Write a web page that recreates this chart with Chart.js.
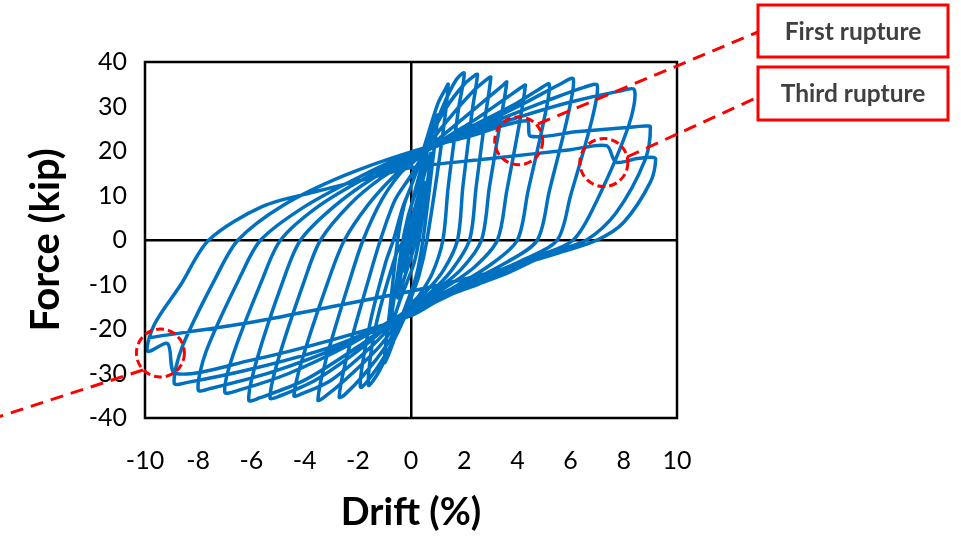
<!DOCTYPE html>
<html>
<head>
<meta charset="utf-8">
<script src="https://cdn.jsdelivr.net/npm/chart.js@4.4.1/dist/chart.umd.min.js"></script>
<style>
  html, body { margin: 0; padding: 0; background: #fff; }
  #wrap { width: 961px; height: 536px; }
</style>
</head>
<body>
<div id="wrap"><canvas id="hysteresis" width="961" height="536"></canvas></div>
<script>
// tick labels
const driftTicks = [-10, -8, -6, -4, -2, 0, 2, 4, 6, 8, 10];
const forceTicks = [-40, -30, -20, -10, 0, 10, 20, 30, 40];

// loops, [drift %, force kip]
const cycle01 = [[0,0],[0.12,3.5],[0.25,7],[0.14,2.5],[0.05,0],[-0.1,-3],[-0.25,-7],[-0.14,-2.5],[-0.05,0],[0,1.5]];
const cycle02 = [[0.2,6.5],[0.5,13],[0.32,5.5],[0.18,0],[0,-4],[-0.25,-8.5],[-0.5,-13],[-0.32,-5.5],[-0.18,0],[0,4]];
const cycle03 = [[0.35,11.5],[0.75,19.5],[0.52,9],[0.3,0],[0.1,-5.5],[-0.35,-12.5],[-0.75,-19],[-0.52,-8.5],[-0.3,0],[-0.1,5.5],[0,7.5]];
const cycle04 = [[0.4,15],[0.8,24.5],[1.0,28],[0.78,16],[0.45,0],[0.2,-8],[-0.3,-16.5],[-0.7,-23.5],[-1.0,-27.5],[-0.8,-16],[-0.5,0],[-0.25,8],[0,12]];
const cycle05 = [[0.5,21],[1.0,30.5],[1.3,34],[1.4,35],[1.2,24],[0.6,0],[0.3,-8],[0,-13],[-0.6,-22],[-1.2,-29.5],[-1.6,-32.6],[-1.35,-20],[-0.55,-3],[-0.28,0],[0,7.5]];
const cycle06 = [[0.6,20.5],[1.2,30],[1.7,36],[2.0,37.5],[1.8,30],[1.4,12],[1.2,0],[0.8,-7.5],[0.3,-12.5],[0,-14.5],[-0.6,-22],[-1.3,-29],[-1.9,-33],[-1.55,-19],[-0.95,-5],[-0.66,0],[-0.3,7.5],[0,12]];
const cycle07 = [[0.6,21.5],[1.3,29.5],[2.0,35],[2.4,37],[2.5,37.2],[2.3,29],[1.95,12],[1.75,0],[1.2,-7],[0.5,-12],[0,-14.5],[-0.9,-23.5],[-1.8,-30.5],[-2.5,-34.8],[-2.7,-35.3],[-2.4,-26],[-1.6,-9],[-1.15,0],[-0.6,9],[0,14.5]];
const cycle08 = [[0.8,22.5],[1.6,28.5],[2.4,33.8],[2.9,36.3],[3.0,36.6],[2.8,28],[2.45,12],[2.2,0],[1.5,-7],[0.7,-12],[0,-15],[-1.2,-24],[-2.4,-31],[-3.3,-35.5],[-3.5,-36],[-3.2,-27],[-2.3,-9],[-1.8,0],[-1.1,9],[-0.4,15],[0,17]];
const cycle09 = [[1,22.5],[2,27.5],[3,32.5],[3.5,35],[3.6,35.5],[3.4,28],[2.95,12],[2.65,0],[1.9,-6.5],[0.9,-11.5],[0,-15],[-1.5,-24],[-3,-31.5],[-4.2,-34.8],[-4.4,-35],[-4.1,-27],[-3.1,-9],[-2.5,0],[-1.6,8],[-0.7,14],[0,17.5]];
const cycle10 = [[1.2,22.5],[2.4,27],[3.6,32],[4.2,34.5],[4.3,34.8],[4.1,27],[3.6,11],[3.25,0],[2.4,-6],[1.2,-11],[0,-15],[-1.8,-24],[-3.6,-31.5],[-5.0,-35.2],[-5.3,-35.5],[-5.0,-27],[-4.0,-9],[-3.4,0],[-2.3,8],[-1.1,14],[0,18]];
const cycle11 = [[1.3,22.5],[2.6,26.5],[3.9,30.5],[4.8,33.8],[5.2,35],[5.0,27],[4.4,11],[4.0,0],[3.0,-5.5],[1.5,-11],[0,-15.5],[-2,-24],[-4,-31.5],[-5.7,-35.5],[-6.1,-36],[-5.8,-27],[-4.8,-9],[-4.15,0],[-2.9,7.5],[-1.4,14],[0,18.5]];
const cycle12 = [[1.5,22.5],[3,27],[4.5,31.5],[5.6,35],[6.1,36.2],[5.9,28],[5.2,11],[4.75,0],[3.6,-5],[1.8,-10.5],[0,-15.5],[-2.3,-23.5],[-4.6,-30],[-6.5,-33.8],[-7.0,-34.2],[-6.7,-26],[-5.6,-9],[-4.9,0],[-3.5,7.5],[-1.7,14],[0,19]];
const cycle13 = [[1.7,23],[3.5,27.5],[5.2,31.5],[6.5,34.3],[7.0,34.8],[6.8,27],[6.0,10],[5.5,0],[4.2,-4.5],[2.1,-10],[0,-16],[-2.7,-24],[-5.3,-29.8],[-7.5,-33.3],[-8.0,-33.7],[-7.7,-25],[-6.4,-8],[-5.65,0],[-4,7.5],[-2,14],[0,19.5]];
const cycle14 = [[2,23.5],[4,27.5],[6,31],[7.8,33.4],[8.4,33.7],[8.2,26],[7.0,9],[6.1,0],[4.6,-4],[2.3,-10],[0,-16.5],[-3,-24],[-6,-29],[-8.4,-32],[-8.9,-32.2],[-8.6,-24],[-7.3,-8],[-6.5,0],[-4.8,7.8],[-2.5,14.5],[0,19.8]];
const cycle15 = [[2.2,23.3],[4.35,26.8],[4.5,23.3],[6.2,24.3],[8.0,25.2],[8.8,25.6],[9.0,25.4],[8.8,18],[7.7,6],[6.6,0],[5.2,-3],[3.7,-7.2],[2.5,-10],[1.2,-13],[0,-17],[-3,-22.5],[-6,-27],[-8.85,-30],[-9.15,-23.3],[-9.9,-25],[-9.65,-19],[-8.65,-10],[-7.6,0],[-5.6,7.5],[-3.5,11],[-1.5,14],[0,16.3]];
const cycle16 = [[3,18.3],[6,20.3],[7.35,21.2],[7.7,17.5],[8.5,18.3],[9.05,18.6],[9.2,18.2],[9.0,13],[8.0,4],[7.0,0],[5.5,-3],[3.5,-6.5],[1.5,-9.5],[0,-11.5],[-3,-15],[-6,-18.5],[-9.9,-22]];

// rupture locations (drift, force) and their callout labels
const ruptureSpots = [[4.05, 22.3], [7.25, 17.4], [-9.42, -25.4]];
const calloutLabels = ['First rupture', 'Third rupture'];

const loops = [cycle01, cycle02, cycle03, cycle04, cycle05, cycle06, cycle07, cycle08,
               cycle09, cycle10, cycle11, cycle12, cycle13, cycle14, cycle15, cycle16];
const points = loops.flat().map(([x, y]) => ({ x, y }));

const RED = '#FF0000';

const annotate = {
  id: 'annotate',
  afterDatasetsDraw(chart) {
    const { ctx, chartArea: a, scales: { x, y } } = chart;
    ctx.save();
    // plot frame
    ctx.strokeStyle = '#000';
    ctx.lineWidth = 2.5;
    ctx.setLineDash([]);
    ctx.strokeRect(a.left, a.top, a.right - a.left, a.bottom - a.top);

    // dashed circles round the ruptures
    ctx.strokeStyle = RED;
    ctx.lineWidth = 3;
    ctx.setLineDash([8, 4]);
    ruptureSpots.forEach(([dx, dy]) => {
      ctx.beginPath();
      ctx.arc(x.getPixelForValue(dx), y.getPixelForValue(dy), 24, 0, Math.PI * 2);
      ctx.stroke();
    });

    // leader lines
    ctx.setLineDash([13, 8]);
    const leaders = [[538, 124, 758, 32], [627, 157, 758, 97], [143, 370, -5, 418]];
    leaders.forEach(([x1, y1, x2, y2]) => {
      ctx.beginPath();
      ctx.moveTo(x1, y1);
      ctx.lineTo(x2, y2);
      ctx.stroke();
    });

    // callout boxes
    ctx.setLineDash([]);
    const boxes = [[758, 5, 190, 52], [758, 67, 190, 53]];
    ctx.font = 'bold 24.5px Lato';
    ctx.textAlign = 'center';
    ctx.textBaseline = 'middle';
    boxes.forEach(([bx, by, bw, bh], i) => {
      ctx.fillStyle = '#fff';
      ctx.fillRect(bx, by, bw, bh);
      ctx.strokeStyle = RED;
      ctx.strokeRect(bx, by, bw, bh);
      ctx.fillStyle = '#404040';
      ctx.fillText(calloutLabels[i], bx + bw / 2, by + bh / 2 + 1);
    });
    ctx.restore();
  }
};

const zeroGrid = {
  drawTicks: false,
  color: c => (c.tick && c.tick.value === 0 ? '#000' : 'rgba(0,0,0,0)'),
  lineWidth: 2.5
};

new Chart(document.getElementById('hysteresis'), {
  type: 'scatter',
  data: {
    datasets: [{
      data: points,
      showLine: true,
      borderColor: '#0070C0',
      borderWidth: 3.5,
      pointRadius: 0,
      tension: 0.3,
      fill: false
    }]
  },
  options: {
    responsive: false,
    animation: false,
    events: [],
    layout: { padding: { top: 62, right: 284, left: 0, bottom: 0 } },
    plugins: { legend: { display: false }, tooltip: { enabled: false } },
    scales: {
      x: {
        type: 'linear', min: -10, max: 10,
        afterBuildTicks: s => { s.ticks = driftTicks.map(v => ({ value: v })); },
        afterFit: s => { s.height = 118; },
        ticks: { color: '#000', font: { family: 'Lato', size: 25 }, padding: 28, maxRotation: 0 },
        grid: zeroGrid,
        border: { display: false },
        title: { display: true, text: 'Drift (%)', color: '#000',
                 font: { family: 'Lato', size: 38, weight: 'bold', lineHeight: 1.2 }, padding: { top: 0, bottom: 0 } }
      },
      y: {
        type: 'linear', min: -40, max: 40,
        afterBuildTicks: s => { s.ticks = forceTicks.map(v => ({ value: v })); },
        afterFit: s => { s.width = 145; },
        ticks: { color: '#000', font: { family: 'Lato', size: 25 }, padding: 18 },
        grid: zeroGrid,
        border: { display: false },
        title: { display: true, text: 'Force (kip)', color: '#000',
                 font: { family: 'Lato', size: 40, weight: 'bold', lineHeight: 1.2 }, padding: { top: 22, bottom: 0 } }
      }
    }
  },
  plugins: [annotate]
});
</script>
</body>
</html>
